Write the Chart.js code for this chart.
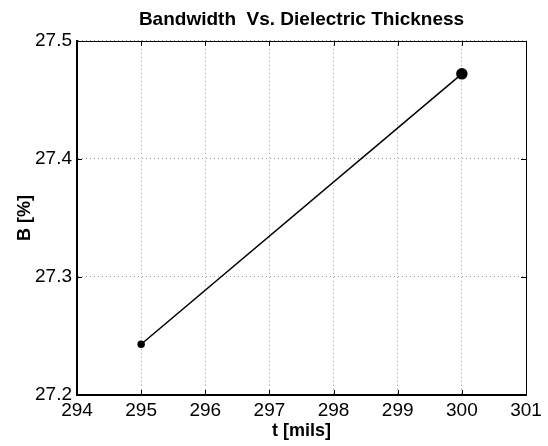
<!DOCTYPE html>
<html>
<head>
<meta charset="utf-8">
<script src="https://cdn.jsdelivr.net/npm/chart.js@4/dist/chart.umd.min.js"></script>
<style>
  html, body { margin: 0; padding: 0; background: #fff; }
  canvas { display: block; }
</style>
</head>
<body>
<canvas id="bwChart" width="548" height="446"></canvas>
<script>
"use strict";

// values
var thickness = [295, 300];          // t [mils]
var bandwidth = [27.243, 27.472];    // B [%]
var markerSize = [3, 5];             // '.' at 295, 'o' at 300
var xRange = [294, 301];
var yRange = [27.2, 27.5];

var fontFamily = '"Liberation Sans", Arial, Helvetica, sans-serif';

// matlab style box with inward ticks on all four sides
var boxTicks = {
  id: 'boxTicks',
  afterDraw: function(chart) {
    var ctx = chart.ctx;
    var a = chart.chartArea;
    var xs = chart.scales.x, ys = chart.scales.y;
    var len = 5;
    ctx.save();
    ctx.strokeStyle = '#000';
    ctx.lineWidth = 1;
    ctx.beginPath();
    xs.ticks.forEach(function(t) {
      var px = Math.round(xs.getPixelForValue(t.value)) + 0.5;
      ctx.moveTo(px, a.bottom); ctx.lineTo(px, a.bottom - len);
      ctx.moveTo(px, a.top); ctx.lineTo(px, a.top + len);
    });
    ys.ticks.forEach(function(t) {
      var py = Math.round(ys.getPixelForValue(t.value)) + 0.5;
      ctx.moveTo(a.left, py); ctx.lineTo(a.left + len, py);
      ctx.moveTo(a.right, py); ctx.lineTo(a.right - len, py);
    });
    ctx.stroke();
    ctx.strokeRect(Math.round(a.left) + 0.5, Math.round(a.top) + 0.5,
                   Math.round(a.right - a.left), Math.round(a.bottom - a.top));
    ctx.restore();
  }
};

var ctx = document.getElementById('bwChart').getContext('2d');
var bwChart = new Chart(ctx, {
  type: 'scatter',
  data: {
    datasets: [{
      label: 'B',
      data: thickness.map(function(t, i) { return { x: t, y: bandwidth[i] }; }),
      showLine: true,
      borderColor: '#000',
      borderWidth: 1.5,
      pointRadius: markerSize,
      pointHoverRadius: markerSize,
      pointBackgroundColor: '#000',
      pointBorderColor: '#000'
    }]
  },
  options: {
    responsive: false,
    animation: false,
    layout: { padding: { left: 0, right: 22, top: 0, bottom: 0 } },
    plugins: {
      legend: { display: false },
      tooltip: { enabled: false },
      title: {
        display: true,
        fullSize: false,
        text: 'Bandwidth  Vs. Dielectric Thickness',
        color: '#000',
        font: { family: fontFamily, size: 19, weight: 'bold' },
        padding: { top: 8, bottom: 10 }
      }
    },
    scales: {
      x: {
        type: 'linear',
        min: xRange[0],
        max: xRange[1],
        afterFit: function(scale) { scale.height = 51; },
        ticks: {
          stepSize: 1,
          autoSkip: false,
          color: '#000',
          padding: 4,
          font: { family: fontFamily, size: 19 }
        },
        grid: {
          color: '#999',
          lineWidth: 1,
          drawTicks: false
        },
        border: { display: true, color: '#000', width: 2, dash: [1, 3] },
        title: {
          display: true,
          text: 't [mils]',
          color: '#000',
          font: { family: fontFamily, size: 18, weight: 'bold' },
          padding: { top: 0, bottom: 4 }
        }
      },
      y: {
        type: 'linear',
        min: yRange[0],
        max: yRange[1],
        afterFit: function(scale) { scale.width = 77; },
        ticks: {
          stepSize: 0.1,
          autoSkip: false,
          color: '#000',
          padding: 5,
          font: { family: fontFamily, size: 19 },
          callback: function(v) { return v.toFixed(1); }
        },
        grid: {
          color: '#999',
          lineWidth: 1,
          drawTicks: false
        },
        border: { display: true, color: '#000', width: 2, dash: [1, 3] },
        title: {
          display: true,
          text: 'B [%]',
          color: '#000',
          font: { family: fontFamily, size: 18, weight: 'bold' },
          padding: { top: 14, bottom: 0 }
        }
      }
    }
  },
  plugins: [boxTicks]
});
</script>
</body>
</html>
